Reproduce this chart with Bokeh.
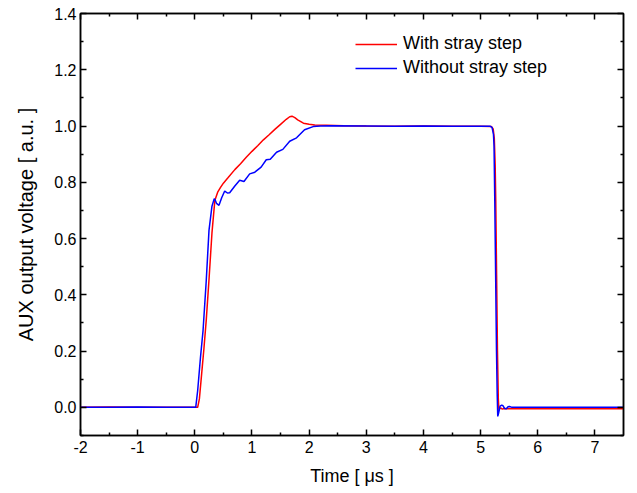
from bokeh.plotting import figure
from bokeh.models import (Range1d, LinearAxis, FixedTicker, Legend, LegendItem,
                          NumeralTickFormatter, CustomJSTickFormatter)
from bokeh.embed import file_html
from bokeh.resources import INLINE

# ---- data ----
red_x = [-2.0, -1.5, -1.0, -0.5, 0.0, 0.05, 0.08, 0.12, 0.16, 0.20, 0.25, 0.30, 0.35,
         0.40, 0.45, 0.50, 0.58, 0.70, 0.80, 0.90, 1.00, 1.10, 1.20, 1.30, 1.40, 1.50,
         1.60, 1.66, 1.70, 1.75, 1.80, 1.90, 2.00, 2.10, 2.30, 2.60, 3.00, 3.50, 4.00,
         4.50, 5.00, 5.19, 5.22, 5.24, 5.255, 5.265, 5.28, 5.295, 5.31, 5.32, 5.35,
         5.38, 5.42, 5.50, 6.00, 6.50, 7.00, 7.50]
red_y = [0.0, 0.001, 0.0, 0.0, 0.0, 0.0, 0.03, 0.12, 0.21, 0.31, 0.46, 0.62, 0.735,
         0.765, 0.782, 0.797, 0.816, 0.845, 0.866, 0.889, 0.91, 0.93, 0.951, 0.969, 0.988, 1.006,
         1.024, 1.033, 1.035, 1.030, 1.022, 1.010, 1.006, 1.004, 1.003, 1.001, 1.0, 0.999, 1.0,
         0.999, 0.999, 0.998, 0.99, 0.955, 0.86, 0.735, 0.47, 0.20, 0.03, -0.008, -0.002,
         -0.006, -0.004, -0.005, -0.004, -0.005, -0.004, -0.005]

blue_x = [-2.0, -1.5, -1.0, -0.5, 0.0, 0.016, 0.05, 0.10, 0.144, 0.20, 0.248, 0.30, 0.34,
          0.355, 0.38, 0.423, 0.47, 0.523, 0.57, 0.61, 0.70, 0.785, 0.86, 0.96, 1.05, 1.16, 1.25,
          1.32, 1.43, 1.54, 1.66, 1.78, 1.92, 2.07, 2.20, 2.40, 3.00, 3.50, 4.00, 4.50, 5.00,
          5.17, 5.20, 5.225, 5.235, 5.248, 5.263, 5.278, 5.29, 5.30, 5.315, 5.34, 5.37,
          5.39, 5.42, 5.45, 5.48, 5.505, 5.55, 6.00, 6.50, 7.00, 7.50]
blue_y = [0.0, 0.0, 0.001, 0.0, 0.0, 0.0, 0.06, 0.18, 0.273, 0.45, 0.629, 0.715, 0.742,
          0.738, 0.725, 0.718, 0.745, 0.769, 0.762, 0.763, 0.787, 0.807, 0.803, 0.830, 0.836, 0.854, 0.880,
          0.882, 0.907, 0.917, 0.946, 0.958, 0.987, 0.998, 1.0, 1.001, 1.0, 0.999, 1.0, 0.999, 0.999,
          0.999, 0.995, 0.97, 0.93, 0.735, 0.47, 0.20, 0.05, -0.032, -0.02, 0.004, 0.008,
          0.006, -0.004, -0.005, 0.002, 0.003, 0.0, 0.0, 0.0, 0.0, 0.0]

series_names = ["With stray step", "Without stray step"]
x_major = [-2, -1, 0, 1, 2, 3, 4, 5, 6, 7]
x_minor = [-1.5, -0.5, 0.5, 1.5, 2.5, 3.5, 4.5, 5.5, 6.5]
y_major = [0.0, 0.2, 0.4, 0.6, 0.8, 1.0, 1.2, 1.4]
y_minor = [-0.1, 0.1, 0.3, 0.5, 0.7, 0.9, 1.1, 1.3]

FONT = "Liberation Sans"

p = figure(width=637, height=493, x_range=Range1d(-2, 7.5), y_range=Range1d(-0.1, 1.4),
           output_backend="svg", toolbar_location=None,
           min_border_left=80, min_border_right=14, min_border_top=13, min_border_bottom=58)
p.grid.visible = False
p.outline_line_color = "black"
p.outline_line_width = 1.5
p.background_fill_color = "white"
p.border_fill_color = "white"

xt = FixedTicker(ticks=x_major, minor_ticks=x_minor)
yt = FixedTicker(ticks=y_major, minor_ticks=y_minor)


def style_axis(ax):
    ax.axis_line_color = "black"
    ax.axis_line_width = 1.5
    ax.major_tick_in = 6
    ax.major_tick_out = 0
    ax.minor_tick_in = 3
    ax.minor_tick_out = 0
    ax.major_tick_line_color = "black"
    ax.minor_tick_line_color = "black"
    ax.major_tick_line_width = 1.5
    ax.minor_tick_line_width = 1.5
    ax.major_label_text_font = FONT
    ax.major_label_text_font_size = "16px"
    ax.major_label_text_color = "black"
    ax.axis_label_text_font = FONT
    ax.axis_label_text_font_style = "normal"
    ax.axis_label_text_color = "black"


xa = p.xaxis[0]
xa.ticker = xt
style_axis(xa)
xa.formatter = CustomJSTickFormatter(code="return tick.toFixed(0)")
xa.axis_label = "Time [ μs ]"
xa.axis_label_text_font_size = "18px"
xa.major_label_standoff = 5
xa.axis_label_standoff = 10

ya = p.yaxis[0]
ya.ticker = yt
style_axis(ya)
ya.formatter = NumeralTickFormatter(format="0.0")
ya.axis_label = "AUX output voltage [ a.u. ]"
ya.axis_label_text_font_size = "20px"
ya.major_label_standoff = 4
ya.axis_label_standoff = 14

blank = CustomJSTickFormatter(code="return ''")
top = LinearAxis(ticker=xt, formatter=blank)
style_axis(top)
top.major_label_standoff = 0
p.add_layout(top, "above")
right = LinearAxis(ticker=yt, formatter=blank)
style_axis(right)
right.major_label_standoff = 0
p.add_layout(right, "right")

r_red = p.line(red_x, red_y, line_color="#ff0000", line_width=1.5)
r_blue = p.line(blue_x, blue_y, line_color="#0000ff", line_width=1.5)

legend = Legend(items=[LegendItem(label=series_names[0], renderers=[r_red]),
                       LegendItem(label=series_names[1], renderers=[r_blue])],
                location=(275, 357), padding=0, margin=0, spacing=3,
                glyph_width=42, glyph_height=20, label_height=20, label_standoff=6,
                border_line_color=None, background_fill_alpha=0,
                label_text_font=FONT, label_text_font_size="18px", label_text_color="black")
p.add_layout(legend)

open("out.html", "w").write(file_html(p, INLINE))
